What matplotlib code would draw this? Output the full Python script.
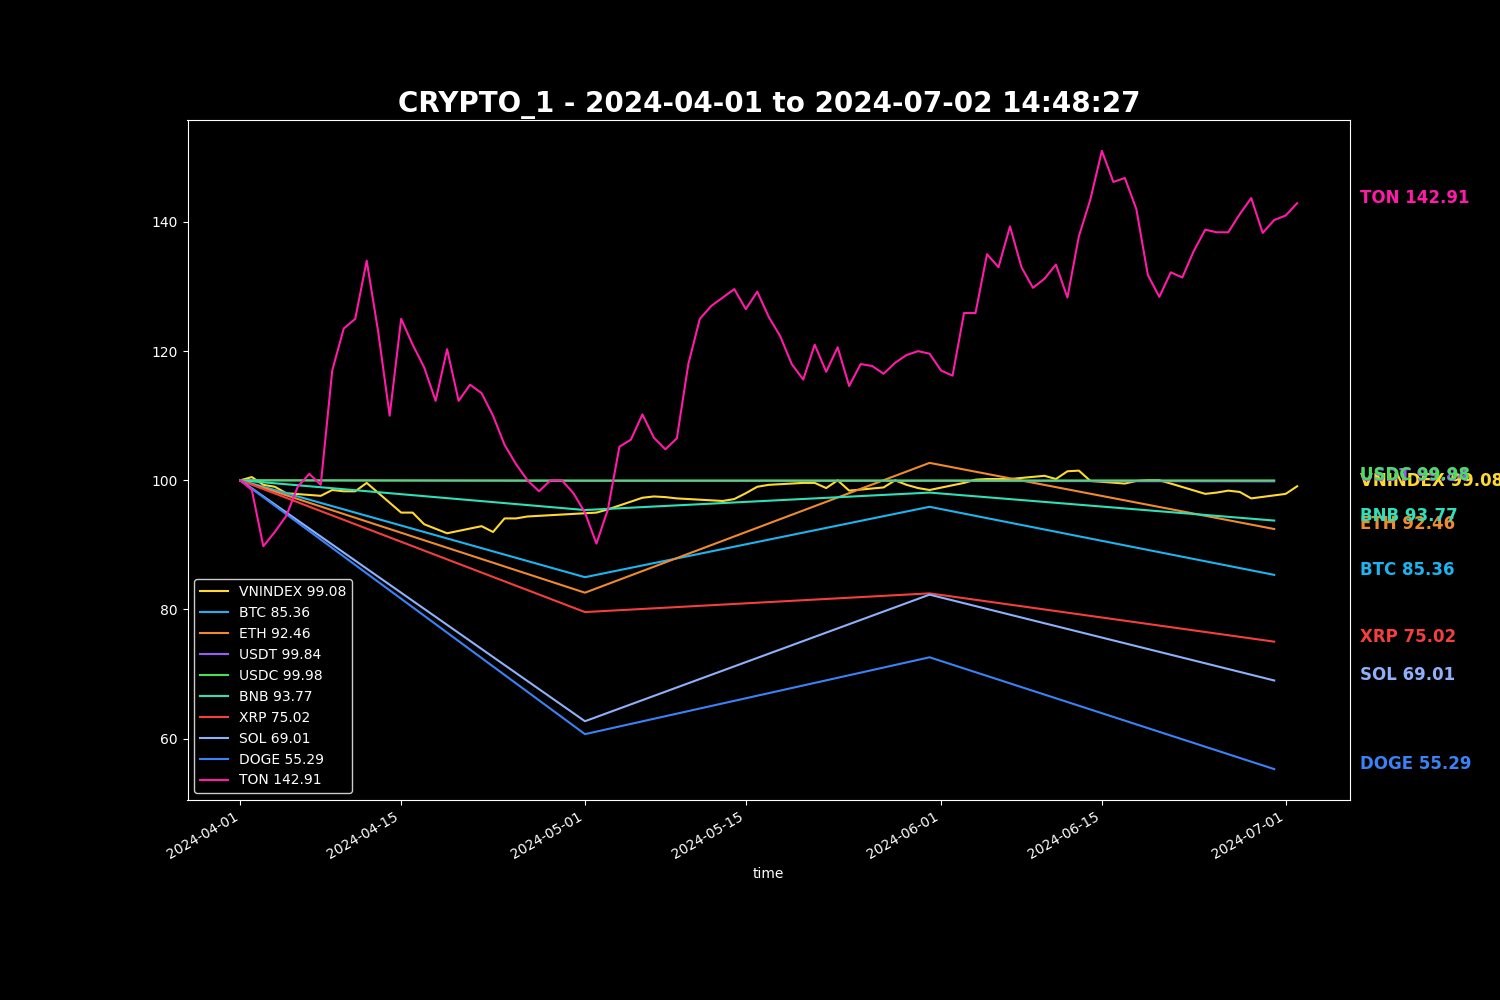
import pandas as pd
import numpy as np
import matplotlib.pyplot as plt
import matplotlib.transforms as mtransforms

plt.style.use("dark_background")

# monthly sampled crypto series (normalised to 100)
crypto_dates = pd.to_datetime(["2024-04-01", "2024-05-01", "2024-05-31", "2024-06-30"])
btc = [100, 85.0, 95.9, 85.36]
eth = [100, 82.6, 102.7, 92.46]
usdt = [100, 99.9, 99.9, 99.84]
usdc = [100, 99.97, 99.98, 99.98]
bnb = [100, 95.4, 98.1, 93.77]
xrp = [100, 79.6, 82.5, 75.02]
sol = [100, 62.7, 82.3, 69.01]
doge = [100, 60.7, 72.6, 55.29]

# VNINDEX business days
vn_dates = ["04-01", "04-02", "04-03", "04-04", "04-05", "04-08", "04-09", "04-10", "04-11", "04-12",
            "04-15", "04-16", "04-17", "04-18", "04-19", "04-22", "04-23", "04-24", "04-25", "04-26",
            "05-02", "05-03", "05-06", "05-07", "05-08", "05-09", "05-10", "05-13", "05-14", "05-15",
            "05-16", "05-17", "05-20", "05-21", "05-22", "05-23", "05-24", "05-27", "05-28", "05-29",
            "05-30", "05-31", "06-03", "06-04", "06-05", "06-06", "06-07", "06-10", "06-11", "06-12",
            "06-13", "06-14", "06-17", "06-18", "06-19", "06-20", "06-21", "06-24", "06-25", "06-26",
            "06-27", "06-28", "07-01", "07-02"]
vn_values = [100, 100.5, 99.3, 99.0, 98.0, 97.6, 98.5, 98.3, 98.3, 99.6,
             95.0, 95.0, 93.2, 92.5, 91.8, 92.9, 92.0, 94.1, 94.1, 94.4,
             95.0, 95.5, 97.3, 97.5, 97.4, 97.2, 97.1, 96.8, 97.1, 98.0,
             99.0, 99.3, 99.6, 99.6, 98.8, 100.0, 98.4, 98.9, 100.0, 99.3,
             98.8, 98.5, 99.6, 100.1, 100.2, 100.2, 100.2, 100.7, 100.2, 101.4,
             101.5, 99.9, 99.5, 99.9, 100.0, 100.0, 99.5, 97.9, 98.1, 98.4,
             98.2, 97.2, 97.9, 99.08]
vn_dates = pd.to_datetime(["2024-" + d for d in vn_dates])

# TON daily
ton_dates = pd.date_range("2024-04-01", "2024-07-02", freq="D")
ton = [100, 98.5, 89.8, 92.0, 94.5, 99.0, 101.0, 99.3, 117.0, 123.5,
       125.0, 134.0, 123.0, 110.0, 125.0, 121.0, 117.5, 112.3, 120.3, 112.3,
       114.8, 113.5, 110.0, 105.5, 102.5, 100.0, 98.3, 100.0, 100.0, 98.0,
       95.0, 90.2, 95.5, 105.2, 106.3, 110.2, 106.6, 104.8, 106.5, 118.0,
       125.0, 127.0, 128.3, 129.6, 126.5, 129.2, 125.3, 122.3, 118.0, 115.6,
       121.0, 116.8, 120.6, 114.6, 118.0, 117.7, 116.5, 118.2, 119.4, 120.0,
       119.6, 117.0, 116.2, 125.9, 125.9, 135.0, 133.0, 139.3, 133.0, 129.8,
       131.2, 133.4, 128.3, 137.8, 143.5, 151.0, 146.2, 146.8, 142.0, 131.8,
       128.4, 132.2, 131.4, 135.5, 138.8, 138.4, 138.4, 141.2, 143.7, 138.3,
       140.3, 141.0, 142.91]

series = [
    ("VNINDEX", vn_dates, vn_values, "#ffd92f"),
    ("BTC", crypto_dates, btc, "#1cb5f0"),
    ("ETH", crypto_dates, eth, "#ef8a2e"),
    ("USDT", crypto_dates, usdt, "#9b5cf6"),
    ("USDC", crypto_dates, usdc, "#4ade60"),
    ("BNB", crypto_dates, bnb, "#2ee0b8"),
    ("XRP", crypto_dates, xrp, "#f43f3f"),
    ("SOL", crypto_dates, sol, "#8fb0fa"),
    ("DOGE", crypto_dates, doge, "#3b82f6"),
    ("TON", ton_dates, ton, "#ff1aa8"),
]

fig, ax = plt.subplots(figsize=(15, 10), dpi=100)
trans = mtransforms.blended_transform_factory(ax.transAxes, ax.transData)
trans = trans + mtransforms.ScaledTranslation(0, 5 / 100, fig.dpi_scale_trans)
for name, d, v, c in series:
    last = v[-1]
    ax.plot(d, v, color=c, linewidth=1.5, label=f"{name} {last:.2f}")
    ax.text(1.009, last, f"{name} {last:.2f}", color=c, fontsize=12,
            fontweight="bold", va="center", transform=trans)

ax.set_title("CRYPTO_1 - 2024-04-01 to 2024-07-02 14:48:27", fontsize=20, fontweight="bold")
ax.set_xlabel("time")
ax.set_xticks(pd.to_datetime(["2024-04-01", "2024-04-15", "2024-05-01", "2024-05-15",
                              "2024-06-01", "2024-06-15", "2024-07-01"]))
ax.xaxis.set_major_formatter(plt.matplotlib.dates.DateFormatter("%Y-%m-%d"))
ax.legend(loc="lower left", fontsize=10, facecolor="black", edgecolor="white")
fig.autofmt_xdate()
fig.savefig("out.png")
